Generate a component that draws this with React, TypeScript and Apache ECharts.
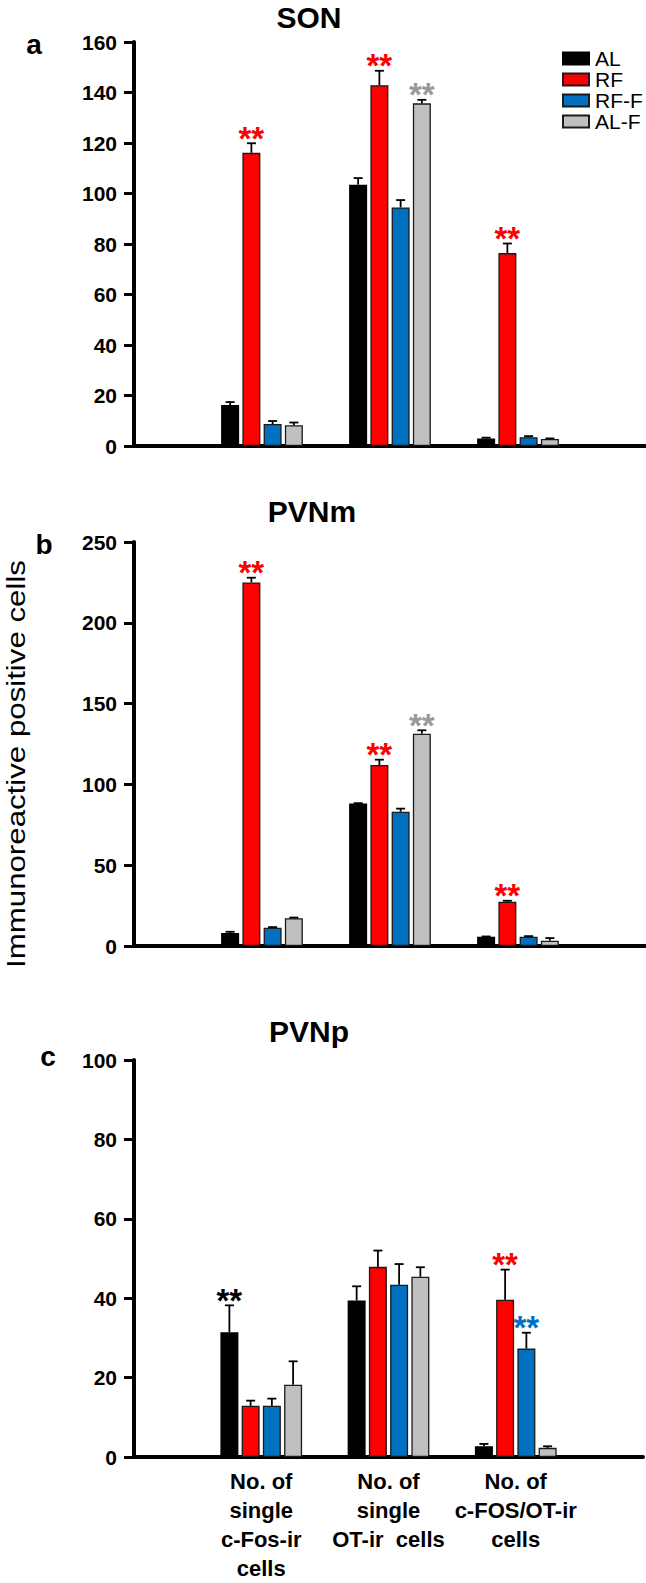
import React, { useEffect, useRef } from 'react';
import * as echarts from 'echarts';

// ---------- data ----------
const seriesNames = ['AL', 'RF', 'RF-F', 'AL-F'];
const seriesColors = ['#000000', '#ff0000', '#0070c0', '#c0c0c0'];
const starColors = ['#000000', '#ff0000', '#0070c0', '#999999'];
const categories = [
  'No. of\nsingle\nc-Fos-ir\ncells',
  'No. of\nsingle\nOT-ir  cells',
  'No. of\nc-FOS/OT-ir\ncells',
];
const panelTitles = ['SON', 'PVNm', 'PVNp'];
const panelLetters = ['a', 'b', 'c'];
const yMaxes = [160, 250, 100];
const yIntervals = [20, 50, 20];
const yAxisTitle = 'Immunoreactive positive cells';

// SON (panel a)
const sonAL = [16.2, 103.5, 3.0];
const sonRF = [116.1, 142.9, 76.4];
const sonRFF = [8.7, 94.5, 3.5];
const sonALF = [8.2, 135.7, 2.8];
const sonALErr = [1.2, 2.6, 0.3];
const sonRFErr = [3.8, 5.7, 3.8];
const sonRFFErr = [1.2, 2.9, 0.4];
const sonALFErr = [1.1, 1.4, 0.2];
const sonALStar = [0, 0, 0];
const sonRFStar = [1, 1, 1];
const sonRFFStar = [0, 0, 0];
const sonALFStar = [0, 1, 0];

// PVNm (panel b)
const pvnmAL = [8.0, 88.2, 5.7];
const pvnmRF = [225.0, 112.0, 27.4];
const pvnmRFF = [11.3, 83.1, 5.7];
const pvnmALF = [17.2, 131.4, 3.3];
const pvnmALErr = [0.8, 0.2, 0.2];
const pvnmRFErr = [2.9, 3.3, 0.6];
const pvnmRFFErr = [0.4, 1.9, 0.4];
const pvnmALFErr = [0.4, 2.1, 1.6];
const pvnmALStar = [0, 0, 0];
const pvnmRFStar = [1, 1, 1];
const pvnmRFFStar = [0, 0, 0];
const pvnmALFStar = [0, 1, 0];

// PVNp (panel c)
const pvnpAL = [31.4, 39.4, 2.7];
const pvnpRF = [12.9, 47.9, 39.6];
const pvnpRFF = [12.9, 43.4, 27.3];
const pvnpALF = [18.2, 45.4, 2.3];
const pvnpALErr = [6.8, 3.6, 0.6];
const pvnpRFErr = [1.3, 4.1, 7.6];
const pvnpRFFErr = [1.8, 5.2, 4.0];
const pvnpALFErr = [5.9, 2.4, 0.4];
const pvnpALStar = [1, 0, 0];
const pvnpRFStar = [0, 0, 1];
const pvnpRFFStar = [0, 0, 1];
const pvnpALFStar = [0, 0, 0];

const panelValues = [
  [sonAL, sonRF, sonRFF, sonALF],
  [pvnmAL, pvnmRF, pvnmRFF, pvnmALF],
  [pvnpAL, pvnpRF, pvnpRFF, pvnpALF],
];
const panelErrors = [
  [sonALErr, sonRFErr, sonRFFErr, sonALFErr],
  [pvnmALErr, pvnmRFErr, pvnmRFFErr, pvnmALFErr],
  [pvnpALErr, pvnpRFErr, pvnpRFFErr, pvnpALFErr],
];
const panelStars = [
  [sonALStar, sonRFStar, sonRFFStar, sonALFStar],
  [pvnmALStar, pvnmRFStar, pvnmRFFStar, pvnmALFStar],
  [pvnpALStar, pvnpRFStar, pvnpRFFStar, pvnpALFStar],
];

// ---------- layout / style ----------
const FONT = '"Liberation Sans", Arial, Helvetica, sans-serif';
const W = 646;
const H = 1583;
const gridTops = [42, 542, 1060];
const gridHeight = 404;
const GRID_LEFT = 134;
const BAR_W = 18;
const BAR_GAP = '18%';

function buildOption() {
  const xCats = ['', ...categories, ''];
  const grids: any[] = [];
  const xAxes: any[] = [];
  const yAxes: any[] = [];
  const series: any[] = [];

  for (let p = 0; p < 3; p++) {
    grids.push({ left: GRID_LEFT, right: 0, top: gridTops[p], height: gridHeight, containLabel: false });
    xAxes.push({
      type: 'category',
      gridIndex: p,
      data: xCats,
      boundaryGap: false,
      axisLine: { show: true, onZero: true, lineStyle: { color: '#000', width: 4 } },
      axisTick: { show: false },
      splitLine: { show: false },
      axisLabel: {
        show: p === 2,
        interval: 0,
        color: '#000',
        fontFamily: FONT,
        fontWeight: 'bold',
        fontSize: 22,
        lineHeight: 29,
        margin: 10,
        align: 'center',
      },
    });
    yAxes.push({
      type: 'value',
      gridIndex: p,
      min: 0,
      max: yMaxes[p],
      interval: yIntervals[p],
      axisLine: { show: true, lineStyle: { color: '#000', width: 4 } },
      axisTick: { show: true, inside: false, length: 10, lineStyle: { color: '#000', width: 3 } },
      splitLine: { show: false },
      axisLabel: {
        color: '#000',
        fontFamily: FONT,
        fontWeight: 'bold',
        fontSize: 21,
        margin: 17,
      },
    });

    for (let s = 0; s < 4; s++) {
      series.push({
        type: 'bar',
        name: seriesNames[s],
        xAxisIndex: p,
        yAxisIndex: p,
        barWidth: BAR_W,
        barGap: BAR_GAP,
        itemStyle: {
          color: seriesColors[s],
          borderColor: s === 0 ? '#000' : '#1a1a1a',
          borderWidth: 1.3,
        },
        data: ['-', ...panelValues[p][s], '-'],
        z: 2,
      });
    }

    const errData: any[] = [];
    for (let s = 0; s < 4; s++) {
      for (let c = 0; c < 3; c++) {
        errData.push([c + 1, s, panelValues[p][s][c], panelErrors[p][s][c], panelStars[p][s][c]]);
      }
    }
    series.push({
      type: 'custom',
      name: 'err' + p,
      xAxisIndex: p,
      yAxisIndex: p,
      z: 5,
      clip: false,
      encode: { x: 0, y: 2 },
      data: errData,
      renderItem: (params: any, api: any) => {
        const cat = api.value(0);
        const si = api.value(1);
        const v = api.value(2);
        const e = api.value(3);
        const st = api.value(4);
        let off = (si - 1.5) * BAR_W * 1.18;
        if (api.barLayout) {
          const lay = api.barLayout({ barWidth: BAR_W, barGap: BAR_GAP, count: 4 });
          if (lay && lay[si] && typeof lay[si].offsetCenter === 'number') off = lay[si].offsetCenter;
        }
        const base = api.coord([cat, v]);
        const top = api.coord([cat, v + e]);
        const x = base[0] + off;
        const children: any[] = [
          { type: 'line', shape: { x1: x, y1: base[1], x2: x, y2: top[1] }, style: { stroke: '#000', lineWidth: 1.8 } },
          { type: 'line', shape: { x1: x - 4.5, y1: top[1], x2: x + 4.5, y2: top[1] }, style: { stroke: '#000', lineWidth: 1.8 } },
        ];
        if (st) {
          children.push({
            type: 'text',
            style: {
              text: '**',
              x: x,
              y: top[1] - 5,
              fill: starColors[si],
              font: 'bold 33px ' + FONT,
              align: 'center',
              verticalAlign: 'middle',
            },
          });
        }
        return { type: 'group', children };
      },
    });
  }

  const titleCenters = [
    [309, 17],
    [312, 511],
    [309, 1031],
  ];
  const letterPos = [
    [34, 44],
    [44, 544],
    [48, 1056],
  ];
  const graphics: any[] = [];
  for (let p = 0; p < 3; p++) {
    graphics.push({
      type: 'text',
      x: titleCenters[p][0],
      y: titleCenters[p][1],
      style: {
        text: panelTitles[p],
        font: 'bold 30px ' + FONT,
        fill: '#000',
        align: 'center',
        verticalAlign: 'middle',
      },
    });
    graphics.push({
      type: 'text',
      x: letterPos[p][0],
      y: letterPos[p][1],
      style: {
        text: panelLetters[p],
        font: 'bold 28px ' + FONT,
        fill: '#000',
        align: 'center',
        verticalAlign: 'middle',
      },
    });
  }
  graphics.push({
    type: 'text',
    x: 16,
    y: 764,
    rotation: Math.PI / 2,
    scaleX: 1.25,
    scaleY: 1,
    style: {
      text: yAxisTitle,
      font: '25px ' + FONT,
      fill: '#000',
      align: 'center',
      verticalAlign: 'middle',
    },
  });

  return {
    animation: false,
    backgroundColor: '#ffffff',
    grid: grids,
    xAxis: xAxes,
    yAxis: yAxes,
    legend: {
      data: seriesNames,
      orient: 'vertical',
      left: 562,
      top: 48,
      padding: 0,
      itemWidth: 26,
      itemHeight: 12,
      itemGap: 0,
      icon: 'rect',
      selectedMode: false,
      formatter: '{t|{name}}',
      textStyle: {
        fontSize: 21,
        color: '#000',
        fontFamily: FONT,
        rich: {
          t: { fontSize: 21, lineHeight: 22, color: '#000', fontFamily: FONT, padding: [0, 0, 0, 1] },
        },
      },
    },
    graphic: graphics,
    series,
  };
}

export default function App() {
  const ref = useRef<HTMLDivElement>(null);
  useEffect(() => {
    if (!ref.current) return;
    const chart = echarts.init(ref.current, undefined, { renderer: 'svg' });
    chart.setOption(buildOption() as any);
    return () => chart.dispose();
  }, []);
  return (
    <div
      ref={ref}
      style={{ position: 'absolute', left: 0, top: 0, width: W, height: H, background: '#fff' }}
    />
  );
}
